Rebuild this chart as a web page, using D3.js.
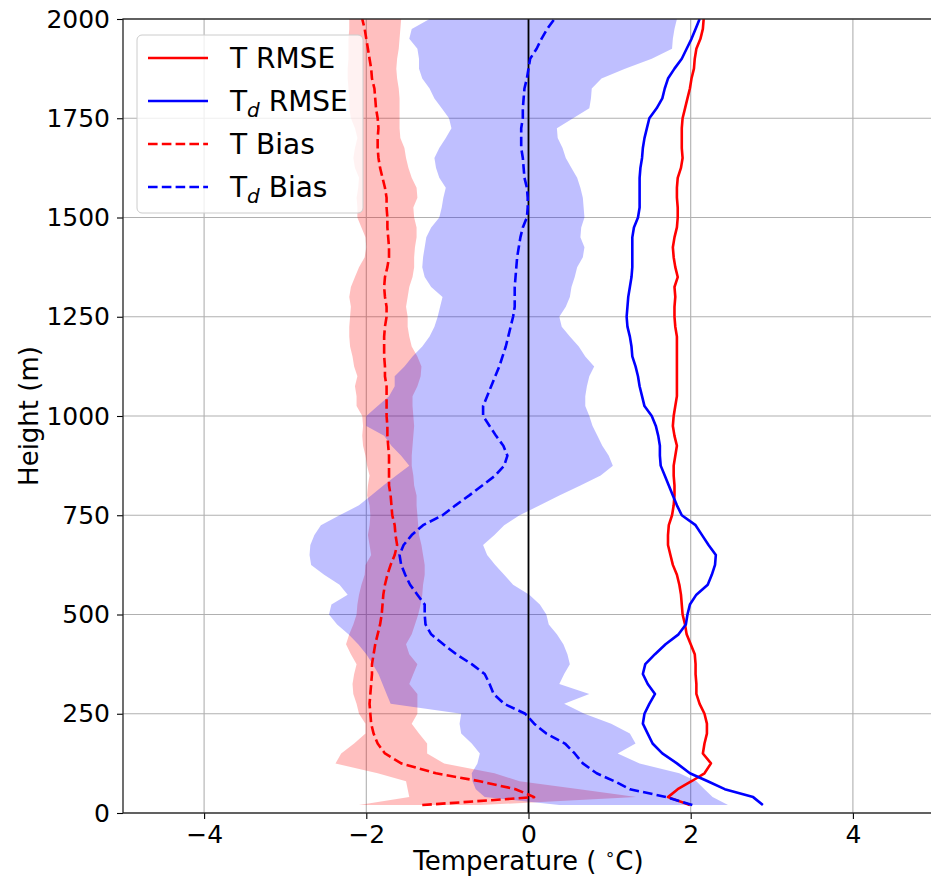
<!DOCTYPE html>
<html>
<head>
<meta charset="utf-8">
<script src="https://cdn.jsdelivr.net/npm/d3@7"></script>
<style>
  body { margin: 0; background: #fff; }
  text { font-family: "DejaVu Sans", sans-serif; }
</style>
</head>
<body>
<svg id="chart" width="931" height="884"></svg>
<script>
// Profile levels (m above ground)
const heights = [20,40,60,80,100,125,150,175,200,225,250,275,300,325,350,375,400,425,450,475,500,525,550,575,600,625,650,675,700,725,750,775,800,825,850,875,900,925,950,975,1000,1025,1050,1075,1100,1125,1150,1175,1200,1225,1250,1275,1300,1325,1350,1375,1400,1425,1450,1475,1500,1525,1550,1575,1600,1625,1650,1675,1700,1725,1750,1775,1800,1825,1850,1875,1900,1925,1950,1975,2000];

// Temperature RMSE (°C)
const tRmse = [1.99,1.72,1.84,2.01,2.17,2.25,2.15,2.17,2.20,2.20,2.17,2.11,2.07,2.07,2.06,2.06,2.05,2.00,1.95,1.93,1.90,1.89,1.88,1.86,1.83,1.78,1.75,1.72,1.72,1.73,1.77,1.79,1.80,1.80,1.79,1.79,1.81,1.83,1.80,1.78,1.79,1.81,1.83,1.83,1.83,1.83,1.83,1.83,1.83,1.81,1.80,1.80,1.81,1.80,1.84,1.81,1.79,1.78,1.80,1.83,1.84,1.84,1.83,1.83,1.84,1.88,1.90,1.89,1.89,1.89,1.90,1.93,1.96,1.99,2.01,2.04,2.05,2.07,2.12,2.15,2.16];

// Dew point RMSE (°C)
const tdRmse = [2.89,2.77,2.42,2.21,1.99,1.83,1.65,1.53,1.47,1.41,1.43,1.49,1.56,1.47,1.41,1.44,1.56,1.69,1.85,1.94,1.96,1.99,2.07,2.21,2.26,2.30,2.31,2.22,2.14,2.06,1.89,1.83,1.78,1.73,1.68,1.63,1.62,1.62,1.60,1.57,1.52,1.43,1.40,1.37,1.35,1.32,1.28,1.27,1.25,1.22,1.21,1.22,1.23,1.25,1.27,1.28,1.28,1.28,1.28,1.30,1.35,1.37,1.37,1.37,1.37,1.38,1.40,1.41,1.43,1.46,1.49,1.58,1.65,1.68,1.72,1.80,1.89,1.95,2.01,2.06,2.11];

// Temperature bias and its spread band (°C)
const tBias = [-1.31,0.07,-0.16,-0.60,-1.14,-1.57,-1.77,-1.86,-1.91,-1.94,-1.95,-1.96,-1.95,-1.94,-1.93,-1.93,-1.91,-1.89,-1.86,-1.83,-1.81,-1.80,-1.79,-1.77,-1.74,-1.70,-1.65,-1.62,-1.64,-1.65,-1.68,-1.69,-1.70,-1.72,-1.72,-1.72,-1.72,-1.73,-1.74,-1.74,-1.75,-1.75,-1.75,-1.75,-1.77,-1.77,-1.78,-1.78,-1.78,-1.77,-1.75,-1.75,-1.77,-1.78,-1.77,-1.74,-1.72,-1.72,-1.73,-1.74,-1.74,-1.75,-1.75,-1.77,-1.80,-1.83,-1.85,-1.86,-1.86,-1.85,-1.86,-1.88,-1.89,-1.90,-1.93,-1.94,-1.96,-1.98,-2.00,-2.02,-2.05];
const tBiasLo = [-2.09,-1.47,-1.49,-1.51,-1.86,-2.38,-2.31,-2.15,-2.01,-2.01,-2.09,-2.12,-2.16,-2.17,-2.15,-2.12,-2.19,-2.25,-2.21,-2.16,-2.12,-2.11,-2.09,-2.06,-2.02,-2.01,-1.94,-1.96,-1.98,-1.96,-1.95,-1.96,-1.99,-1.98,-1.96,-1.99,-2.01,-2.04,-2.05,-2.04,-2.05,-2.12,-2.12,-2.14,-2.11,-2.15,-2.17,-2.20,-2.21,-2.21,-2.20,-2.19,-2.21,-2.19,-2.14,-2.09,-2.02,-2.00,-2.01,-2.06,-2.11,-2.11,-2.12,-2.10,-2.09,-2.14,-2.16,-2.14,-2.11,-2.14,-2.19,-2.21,-2.21,-2.22,-2.23,-2.23,-2.22,-2.22,-2.22,-2.21,-2.21];
const tBiasHi = [-0.60,1.33,0.63,-0.11,-0.42,-1.04,-1.25,-1.25,-1.35,-1.44,-1.37,-1.37,-1.37,-1.47,-1.42,-1.37,-1.47,-1.51,-1.44,-1.40,-1.36,-1.33,-1.31,-1.30,-1.28,-1.28,-1.30,-1.32,-1.35,-1.36,-1.37,-1.38,-1.38,-1.41,-1.42,-1.44,-1.44,-1.43,-1.42,-1.41,-1.42,-1.43,-1.43,-1.37,-1.33,-1.32,-1.37,-1.44,-1.47,-1.49,-1.49,-1.51,-1.49,-1.47,-1.43,-1.41,-1.41,-1.40,-1.38,-1.38,-1.41,-1.42,-1.37,-1.38,-1.44,-1.48,-1.51,-1.53,-1.58,-1.59,-1.59,-1.59,-1.59,-1.60,-1.62,-1.63,-1.62,-1.60,-1.59,-1.58,-1.57];

// Dew point bias and its spread band (°C)
const tdBias = [2.02,1.70,1.25,1.06,0.84,0.67,0.57,0.45,0.22,0.07,-0.04,-0.30,-0.43,-0.48,-0.54,-0.70,-0.89,-1.05,-1.20,-1.27,-1.28,-1.28,-1.37,-1.46,-1.52,-1.57,-1.59,-1.54,-1.44,-1.30,-1.06,-0.90,-0.73,-0.57,-0.41,-0.30,-0.26,-0.31,-0.40,-0.48,-0.56,-0.56,-0.51,-0.46,-0.41,-0.36,-0.32,-0.28,-0.25,-0.22,-0.19,-0.17,-0.17,-0.17,-0.16,-0.15,-0.14,-0.12,-0.10,-0.07,-0.02,-0.01,-0.01,-0.02,-0.05,-0.06,-0.07,-0.09,-0.09,-0.09,-0.07,-0.07,-0.06,-0.05,-0.02,0.00,0.02,0.10,0.16,0.23,0.32];
const tdBiasLo = [0.38,-0.54,-0.65,-0.69,-0.70,-0.63,-0.60,-0.70,-0.83,-0.85,-0.83,-1.70,-1.75,-1.80,-1.85,-1.92,-2.00,-2.10,-2.22,-2.36,-2.46,-2.43,-2.23,-2.33,-2.52,-2.68,-2.70,-2.69,-2.64,-2.56,-2.33,-2.09,-1.94,-1.79,-1.63,-1.47,-1.57,-1.69,-1.78,-2.00,-2.00,-1.86,-1.72,-1.65,-1.65,-1.53,-1.43,-1.31,-1.22,-1.16,-1.12,-1.09,-1.06,-1.20,-1.28,-1.31,-1.30,-1.28,-1.26,-1.20,-1.10,-1.07,-1.05,-1.02,-1.10,-1.14,-1.16,-1.10,-1.02,-0.95,-0.98,-1.07,-1.16,-1.22,-1.31,-1.35,-1.35,-1.37,-1.47,-1.44,-1.22];
const tdBiasHi = [2.46,2.27,2.17,2.07,1.86,1.37,1.10,1.32,1.25,1.02,0.69,0.44,0.75,0.38,0.44,0.51,0.48,0.43,0.35,0.25,0.22,0.14,0.01,-0.19,-0.30,-0.41,-0.51,-0.56,-0.42,-0.30,-0.11,0.14,0.38,0.64,0.89,1.04,0.99,0.91,0.85,0.79,0.75,0.70,0.70,0.72,0.75,0.81,0.70,0.62,0.51,0.41,0.38,0.46,0.51,0.53,0.57,0.60,0.67,0.69,0.64,0.65,0.69,0.68,0.67,0.64,0.60,0.53,0.46,0.42,0.36,0.35,0.55,0.75,0.77,0.78,0.90,1.19,1.52,1.77,1.78,1.80,1.83];

// Axis ticks
const xTicks = [-4, -2, 0, 2, 4];
const yTicks = [0, 250, 500, 750, 1000, 1250, 1500, 1750, 2000];

const svg = d3.select("#chart");
const plotLeft = 123, plotTop = 19, plotW = 811, plotH = 794;
const x = d3.scaleLinear().domain([-5, 5]).range([plotLeft, plotLeft + plotW]);
const y = d3.scaleLinear().domain([0, 2000]).range([plotTop + plotH, plotTop]);

const LW = 2.6;
const DASH = "9.6,4.2";

svg.append("defs").append("clipPath").attr("id", "plotClip")
  .append("rect").attr("x", plotLeft).attr("y", plotTop).attr("width", plotW).attr("height", plotH);

// Grid
const grid = svg.append("g").attr("stroke", "#b0b0b0").attr("stroke-width", 1.1);
grid.selectAll("line.gx").data(xTicks).join("line").attr("class", "gx")
  .attr("x1", d => x(d)).attr("x2", d => x(d)).attr("y1", plotTop).attr("y2", plotTop + plotH);
grid.selectAll("line.gy").data(yTicks).join("line").attr("class", "gy")
  .attr("x1", plotLeft).attr("x2", plotLeft + plotW).attr("y1", d => y(d)).attr("y2", d => y(d));

const plot = svg.append("g").attr("clip-path", "url(#plotClip)");

const rows = heights.map((h, i) => ({
  h, tRmse: tRmse[i], tdRmse: tdRmse[i], tBias: tBias[i], tdBias: tdBias[i],
  tLo: tBiasLo[i], tHi: tBiasHi[i], tdLo: tdBiasLo[i], tdHi: tdBiasHi[i]
}));

// Spread bands
const band = (lo, hi) => d3.area().y(d => y(d.h)).x0(d => x(d[lo])).x1(d => x(d[hi]));
plot.append("path").datum(rows).attr("d", band("tLo", "tHi"))
  .attr("fill", "red").attr("fill-opacity", 0.25);
plot.append("path").datum(rows).attr("d", band("tdLo", "tdHi"))
  .attr("fill", "blue").attr("fill-opacity", 0.25);

// Zero line
plot.append("line").attr("x1", x(0)).attr("x2", x(0)).attr("y1", plotTop).attr("y2", plotTop + plotH)
  .attr("stroke", "#000").attr("stroke-width", 1.8);

// Profiles
const prof = key => d3.line().y(d => y(d.h)).x(d => x(d[key]));
const series = [
  { key: "tRmse", color: "red", dash: null },
  { key: "tdRmse", color: "blue", dash: null },
  { key: "tBias", color: "red", dash: DASH },
  { key: "tdBias", color: "blue", dash: DASH }
];
series.forEach(s => {
  plot.append("path").datum(rows).attr("d", prof(s.key))
    .attr("fill", "none").attr("stroke", s.color).attr("stroke-width", LW)
    .attr("stroke-dasharray", s.dash).attr("stroke-linejoin", "round");
});

// Axes
const xAxis = svg.append("g").attr("transform", `translate(0,${plotTop + plotH})`)
  .call(d3.axisBottom(x).tickValues(xTicks).tickSize(6).tickPadding(6).tickSizeOuter(0));
const yAxis = svg.append("g").attr("transform", `translate(${plotLeft},0)`)
  .call(d3.axisLeft(y).tickValues(yTicks).tickFormat(d3.format("d"))
    .tickSize(6).tickPadding(7).tickSizeOuter(0));
[xAxis, yAxis].forEach(a => {
  a.select(".domain").remove();
  a.selectAll("text").attr("font-family", "DejaVu Sans").attr("font-size", 25).attr("fill", "#000");
  a.selectAll("line").attr("stroke", "#000").attr("stroke-width", 1.1);
});
xAxis.selectAll("text").attr("dy", "0.71em");

// Spines
svg.append("rect").attr("x", plotLeft).attr("y", plotTop).attr("width", plotW).attr("height", plotH)
  .attr("stroke", "#222").attr("stroke-width", 1.3).attr("fill", "none");

// Axis titles
const xl = svg.append("text").attr("x", x(0)).attr("y", 870).attr("text-anchor", "middle")
  .attr("font-size", 26);
xl.append("tspan").text("Temperature ( ");
xl.append("tspan").attr("font-size", 17).attr("dy", -10).text("∘");
xl.append("tspan").attr("dy", 10).text("C)");
svg.append("text").attr("transform", `translate(38,${y(1000)}) rotate(-90)`)
  .attr("text-anchor", "middle").attr("font-size", 26).text("Height (m)");

// Legend
const lg = svg.append("g");
lg.append("rect").attr("x", 137).attr("y", 35).attr("width", 226).attr("height", 178)
  .attr("rx", 5).attr("fill", "#fff").attr("fill-opacity", 0.8).attr("stroke", "#ccc");
const entries = [
  { label: ["T", null, " RMSE"], color: "red", dash: null },
  { label: ["T", "d", " RMSE"], color: "blue", dash: null },
  { label: ["T", null, " Bias"], color: "red", dash: DASH },
  { label: ["T", "d", " Bias"], color: "blue", dash: DASH }
];
entries.forEach((e, i) => {
  const cy = 58 + i * 43;
  lg.append("line").attr("x1", 148).attr("x2", 208).attr("y1", cy).attr("y2", cy)
    .attr("stroke", e.color).attr("stroke-width", LW).attr("stroke-dasharray", e.dash);
  const t = lg.append("text").attr("x", 230).attr("y", cy + 10).attr("font-size", 28);
  t.append("tspan").text(e.label[0]);
  if (e.label[1]) {
    t.append("tspan").attr("font-style", "italic").attr("font-size", 20).attr("dy", 6).text(e.label[1]);
    t.append("tspan").attr("dy", -6).text(e.label[2]);
  } else {
    t.append("tspan").text(e.label[2]);
  }
});
</script>
</body>
</html>
